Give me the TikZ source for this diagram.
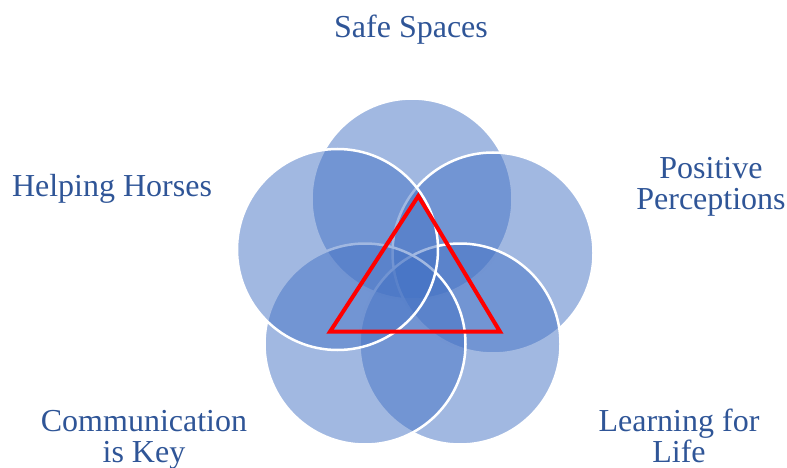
\documentclass[tikz,border=0pt]{standalone}
\usepackage{fontspec}
\setmainfont{Liberation Serif}
\begin{document}
\begin{tikzpicture}[x=1pt,y=-1pt,
  petal/.style={circle, minimum size=201pt, inner sep=0pt,
    fill={rgb,255:red,68;green,114;blue,196}, fill opacity=0.5,
    draw=white, draw opacity=1, line width=2.5pt},
  label/.style={text={rgb,255:red,47;green,85;blue,151}, inner sep=0pt,
    font=\fontsize{32}{30.5}\selectfont, align=center, anchor=base}]
  \useasboundingbox (0,0) rectangle (787,468);

  % five overlapping circles, drawn clockwise from the top
  \node[petal] (top)   at (412,199) {};
  \node[petal] (right) at (493,253) {};
  \node[petal] (lowr)  at (460,344) {};
  \node[petal] (lowl)  at (365,344) {};
  \node[petal] (left)  at (337.5,249.5) {};

  % central triangle
  \coordinate (ta) at (418.3,196);
  \coordinate (tb) at (330,331.7);
  \coordinate (tc) at (500,331.7);
  \draw[red, line width=4pt] (ta) -- (tb) -- (tc) -- cycle;

  % labels (multi-line labels sit on the baseline of their last line)
  \node[label] (lsafe)  at (411,38)  {Safe Spaces};
  \node[label] (lpos)   at (711,209) {Positive\\Perceptions};
  \node[label] (lhelp)  at (112,196) {Helping Horses};
  \node[label] (lcomm)  at (144,462) {Communication\\is Key};
  \node[label] (llearn) at (679,462) {Learning for\\Life};
\end{tikzpicture}
\end{document}
